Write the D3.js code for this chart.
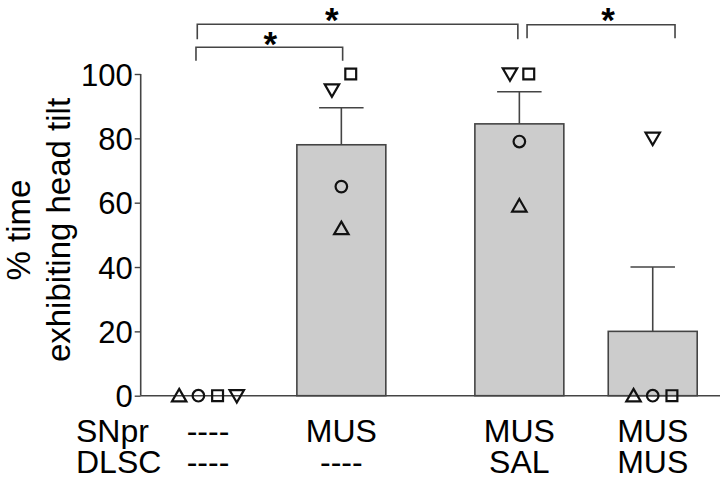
<!DOCTYPE html>
<html><head><meta charset="utf-8">
<script src="https://cdn.jsdelivr.net/npm/d3@7"></script>
<style>body{margin:0;background:#fff}svg{display:block}text{font-family:"Liberation Sans",Arial,sans-serif}</style>
</head><body><svg id="c" width="720" height="480"></svg>
<script>
const groups = ["g1","g2","g3","g4"];
const pairs = ["p1","p1","p2","p2"];
const means = [0, 78, 84.5, 20];
const sems = [0, 11.5, 10, 20];
const snprLabels = ["----","MUS","MUS","MUS"];
const dlscLabels = ["----","----","SAL","MUS"];
const rowNames = ["SNpr","DLSC"];
// individual animals: upTriangle, circle, square, downTriangle
const animalShapes = ["up","circle","square","down"];
const animalValues = [
  [0, 0, 0, 0],
  [52, 65, 100, 95],
  [59, 79, 100, 100],
  [0, 0, 0, 80]
];
const yTicks = [0,20,40,60,80,100];
const sigBrackets = [[0,1],[0,2],[2,3]];
const sigLabel = "*";

const svg = d3.select("#c");
const y = d3.scaleLinear().domain([0,100]).range([395.7,74]);
const outer = d3.scaleBand().domain(["p1","p2"]).range([163.5,697.2]).paddingInner(0.286).paddingOuter(0);
const inner = d3.scaleBand().domain([0,1]).range([0,outer.bandwidth()]).paddingInner(0.333).paddingOuter(0);
const xLeft = i => outer(pairs[i]) + inner(i%2);
const bw = inner.bandwidth();
const xc = i => xLeft(i) + bw/2;
const axisCol = "#444";

// bars
groups.forEach((g,i)=>{
  if(means[i] > 0){
    svg.append("rect").attr("x",xLeft(i)).attr("y",y(means[i])).attr("width",bw)
      .attr("height",y(0)-y(means[i])).attr("fill","#cccccc").attr("stroke",axisCol).attr("stroke-width",1.6);
    svg.append("line").attr("x1",xc(i)).attr("x2",xc(i)).attr("y1",y(means[i])).attr("y2",y(means[i]+sems[i]))
      .attr("stroke",axisCol).attr("stroke-width",1.6);
    svg.append("line").attr("x1",xc(i)-bw/4).attr("x2",xc(i)+bw/4).attr("y1",y(means[i]+sems[i])).attr("y2",y(means[i]+sems[i]))
      .attr("stroke",axisCol).attr("stroke-width",1.6);
  }
});

// axes
const yAxis = d3.axisLeft(y).tickValues(yTicks).tickSize(6).tickPadding(2);
const ya = svg.append("g").attr("transform","translate(140.7,0)").call(yAxis);
ya.select(".domain").attr("stroke",axisCol).attr("stroke-width",1.6).attr("d","M0,"+y(100)+"V"+y(0));
ya.selectAll(".tick line").attr("stroke",axisCol).attr("stroke-width",1.4);
ya.selectAll(".tick text").attr("font-size",31).attr("fill","#000").attr("font-family","Liberation Sans, Arial, sans-serif").attr("dy","0.36em");
svg.append("line").attr("x1",140.7).attr("x2",720).attr("y1",y(0)).attr("y2",y(0)).attr("stroke",axisCol).attr("stroke-width",1.6);

// y label
const yl = svg.append("text").attr("transform","translate(0,230) rotate(-90)").attr("text-anchor","middle").attr("font-size",33).attr("fill","#000");
yl.append("tspan").attr("x",0).attr("y",30).text("% time");
yl.append("tspan").attr("x",0).attr("y",70).text("exhibiting head tilt");

// symbols
const symMap = {up:d3.symbolTriangle, circle:d3.symbolCircle, square:d3.symbolSquare, down:d3.symbolTriangle};
const symSize = {up:90, circle:105, square:118, down:90};
const clusterOrder = ["up","circle","down","square"];
animalValues.forEach((vals,i)=>{
  vals.forEach((v,k)=>{
    const shape = animalShapes[k];
    let dx = 0;
    if(v===0){
      const zero = animalShapes.filter((s,j)=>vals[j]===0);
      dx = (zero.indexOf(shape)-(zero.length-1)/2)*19.2;
    } else {
      const same = clusterOrder.filter(s=>{const j=animalShapes.indexOf(s); return vals[j]!==0 && Math.abs(vals[j]-v)<8;});
      if(same.length>1){ dx = (same.indexOf(shape)-(same.length-1)/2)*18.8; }
    }
    const rot = shape==="down"?" rotate(180)":"";
    const yoff = shape==="up"? 1.5 : (shape==="down"? -1.5 : 0);
    svg.append("path").attr("d",d3.symbol(symMap[shape],symSize[shape])())
      .attr("fill","none").attr("stroke","#111").attr("stroke-width",2.2).attr("stroke-linejoin","miter")
      .attr("transform",`translate(${xc(i)+dx},${y(v)+yoff})${rot}`);
  });
});

// significance brackets
const bracketEnds = [[-12,1.3],[-10.7,-1.5],[7.7,22.3]];
const bracketTop = [47.3,24.3,24.7];
const bracketBot = [60.7,39.3,38.3];
const starFrac = [0.506,0.42,0.548];
const starCenter = [37,13,13];
const starFs = 35;
sigBrackets.forEach((b,j)=>{
  const x1 = xc(b[0])+bracketEnds[j][0], x2 = xc(b[1])+bracketEnds[j][1];
  svg.append("path").attr("d",`M${x1},${bracketBot[j]}V${bracketTop[j]}H${x2}V${bracketBot[j]}`)
    .attr("fill","none").attr("stroke",axisCol).attr("stroke-width",1.6);
  svg.append("text").attr("x",x1+(x2-x1)*starFrac[j]).attr("y",starCenter[j]+0.53*starFs).attr("text-anchor","middle")
    .attr("font-size",starFs).attr("font-weight","bold").attr("fill","#000").text(sigLabel);
});

// bottom labels
const rowY = [442, 473];
[snprLabels, dlscLabels].forEach((labs,r)=>{
  svg.append("text").attr("x",76).attr("y",rowY[r]).attr("font-size",32).attr("fill","#000").text(rowNames[r]);
  labs.forEach((t,i)=>{
    svg.append("text").attr("x",xc(i)).attr("y",rowY[r]).attr("text-anchor","middle").attr("font-size",32).attr("fill","#000").text(t);
  });
});
</script></body></html>
